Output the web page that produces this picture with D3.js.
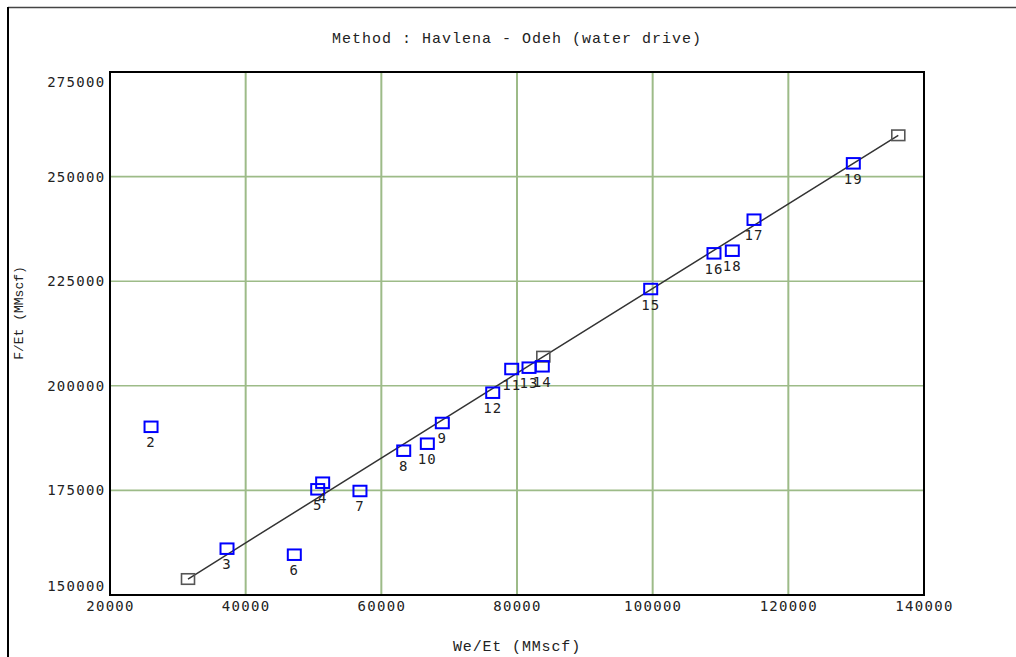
<!DOCTYPE html>
<html><head><meta charset="utf-8">
<script src="https://cdn.jsdelivr.net/npm/d3@7/dist/d3.min.js"></script>
<style>
html,body{margin:0;padding:0;background:#fff;}
svg{display:block;}
</style></head>
<body>
<svg id="chart" width="1016" height="657"></svg>
<script>
// ---- data ----
const pointIds = ["2","3","4","5","6","7","8","9","10","11","12","13","14","15","16","17","18","19"];
const pointX = [26050,37250,51350,50620,47170,56850,63300,68990,66780,79220,76420,81770,83730,99710,109040,114940,111740,129580];
const pointY = [190200,161070,176840,175260,159630,174860,184490,191110,186160,204010,198350,204330,204660,223130,231660,239700,232290,253170];
const fitX = [31500,83880,136210];
const fitY = [153820,206960,259870];
const xTicks = [20000,40000,60000,80000,100000,120000,140000];
const yTicks = [150000,175000,200000,225000,250000,275000];
const titleText = "Method : Havlena - Odeh (water drive)";
const xTitle = "We/Et (MMscf)";
const yTitle = "F/Et (MMscf)";

// ---- layout ----
const svg = d3.select("#chart");
const L = 110, R = 924, T = 72, B = 595;
const x = d3.scaleLinear().domain([20000,140000]).range([L,R]);
const y = d3.scaleLinear().domain([150000,275000]).range([B,T]);
const gridColor = "#9dbb88";
const tickFont = "'DejaVu Sans Mono', monospace";
const titleFont = "'Liberation Mono', 'Courier New', monospace";

// outer frame
svg.append("line").attr("x1",8).attr("x2",1016).attr("y1",7.5).attr("y2",7.5)
  .attr("stroke","#444").attr("stroke-width",1.5);
svg.append("line").attr("x1",8).attr("x2",8).attr("y1",7).attr("y2",657)
  .attr("stroke","#000").attr("stroke-width",2);

// grid
svg.append("g").selectAll("line").data(xTicks.slice(1,-1)).join("line")
  .attr("x1",d=>x(d)).attr("x2",d=>x(d)).attr("y1",T).attr("y2",B)
  .attr("stroke",gridColor).attr("stroke-width",2);
svg.append("g").selectAll("line").data(yTicks.slice(1,-1)).join("line")
  .attr("x1",L).attr("x2",R).attr("y1",d=>y(d)).attr("y2",d=>y(d))
  .attr("stroke",gridColor).attr("stroke-width",1.6);

// plot frame
svg.append("rect").attr("x",L).attr("y",T).attr("width",R-L).attr("height",B-T)
  .attr("fill","none").attr("stroke","#000").attr("stroke-width",2);

// axes via d3 (no domain/ticks lines, labels only)
const xAxis = d3.axisBottom(x).tickValues(xTicks).tickFormat(d3.format("d")).tickSize(0).tickPadding(0);
const gx = svg.append("g").attr("transform",`translate(0,${B})`).call(xAxis);
gx.select(".domain").remove();
gx.selectAll("text").attr("y",16).attr("dy",0)
  .style("font-family",tickFont).style("font-size","14px").style("letter-spacing","1.3px")
  .attr("fill","#222");

const yAxis = d3.axisLeft(y).tickValues(yTicks).tickFormat(d3.format("d")).tickSize(0).tickPadding(0);
const gy = svg.append("g").attr("transform",`translate(${L},0)`).call(yAxis);
gy.select(".domain").remove();
gy.selectAll(".tick").attr("transform",d=>{
  let cy = y(d);
  cy = Math.max(T+10, Math.min(B-9, cy));
  return `translate(0,${cy})`;
});
gy.selectAll("text").attr("x",-4.5).attr("dy","0.36em")
  .style("font-family",tickFont).style("font-size","14px").style("letter-spacing","1.3px")
  .attr("fill","#222");

// titles
svg.append("text").attr("x",517).attr("y",43).attr("text-anchor","middle")
  .style("font-family",titleFont).style("font-size","15px").style("letter-spacing","1px")
  .attr("fill","#222").text(titleText);
svg.append("text").attr("x",517).attr("y",651).attr("text-anchor","middle")
  .style("font-family",titleFont).style("font-size","15px").style("letter-spacing","0.85px")
  .attr("fill","#222").text(xTitle);
svg.append("text").attr("transform","translate(23,313) rotate(-90)").attr("text-anchor","middle")
  .style("font-family",titleFont).style("font-size","13px")
  .attr("fill","#222").text(yTitle);

// fit line
const line = d3.line().x((d,i)=>x(fitX[i])).y((d,i)=>y(fitY[i]));
svg.append("path").datum(fitX).attr("d",line).attr("fill","none")
  .attr("stroke","#333").attr("stroke-width",1.5);

const mw = 13, mh = 10.5;
// fit markers
svg.append("g").selectAll("rect").data(fitX).join("rect")
  .attr("x",(d,i)=>x(fitX[i])-mw/2).attr("y",(d,i)=>y(fitY[i])-mh/2)
  .attr("width",mw).attr("height",mh)
  .attr("fill","none").attr("stroke","#555").attr("stroke-width",1.6);

// data markers
svg.append("g").selectAll("rect").data(pointIds).join("rect")
  .attr("x",(d,i)=>x(pointX[i])-mw/2).attr("y",(d,i)=>y(pointY[i])-mh/2)
  .attr("width",mw).attr("height",mh)
  .attr("fill","none").attr("stroke","#0000ff").attr("stroke-width",2);

// labels
svg.append("g").selectAll("text").data(pointIds).join("text")
  .attr("x",(d,i)=>x(pointX[i])).attr("y",(d,i)=>y(pointY[i])+20.5)
  .attr("text-anchor","middle")
  .style("font-family",tickFont).style("font-size","14px").style("letter-spacing","1.1px")
  .attr("fill","#222").text(d=>d);
</script>
</body></html>
